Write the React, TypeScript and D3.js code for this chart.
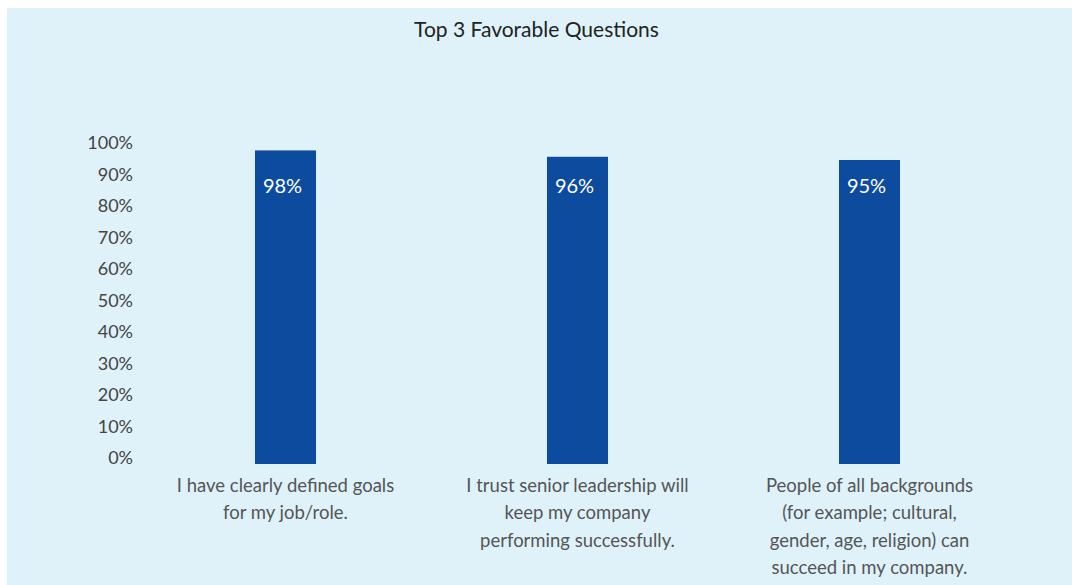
import React from "react";
import * as d3 from "d3";

const categories: string[][] = [
  ["I have clearly defined goals", "for my job/role."],
  ["I trust senior leadership will", "keep my company", "performing successfully."],
  ["People of all backgrounds", "(for example; cultural,", "gender, age, religion) can", "succeed in my company."],
];
const values: number[] = [98, 96, 95];
const valueLabels: string[] = ["98%", "96%", "95%"];
const yTicks: number[] = [0, 10, 20, 30, 40, 50, 60, 70, 80, 90, 100];
const title = "Top 3 Favorable Questions";

const W = 1072;
const H = 585;
const FONT = "Lato, 'Open Sans', sans-serif";

export default function App() {
  const keys = categories.map((_, i) => String(i));
  const x = d3
    .scaleBand<string>()
    .domain(keys)
    .range([139.5, 1015.5])
    .paddingInner(0.791)
    .paddingOuter(0.3955);
  const y = d3.scaleLinear().domain([0, 100]).range([464, 144]);
  const yLab = d3.scaleLinear().domain([0, 100]).range([464, 149]);

  return (
    <svg
      width={W}
      height={H}
      style={{ position: "absolute", left: 0, top: 0, display: "block" }}
      fontFamily={FONT}
    >
      <rect x={7} y={8} width={W - 7} height={H - 8} fill="#dff2fa" />
      <text x={536.5} y={37} textAnchor="middle" fontSize={21} fill="#222">
        {title}
      </text>
      {yTicks.map((t) => (
        <text key={t} x={133} y={yLab(t)} textAnchor="end" fontSize={18} fill="#444">
          {`${t}%`}
        </text>
      ))}
      {values.map((v, i) => {
        const bx = x(keys[i]) as number;
        return (
          <g key={i}>
            <rect x={bx} y={y(v)} width={x.bandwidth()} height={y(0) - y(v)} fill="#0c4b9e" />
            <text
              x={bx + x.bandwidth() / 2 - 3}
              y={y(100) + 49}
              textAnchor="middle"
              fontSize={20}
              fill="#ffffff"
            >
              {valueLabels[i]}
            </text>
            <text textAnchor="middle" fontSize={18.5} fill="#555">
              {categories[i].map((line, j) => (
                <tspan key={j} x={bx + x.bandwidth() / 2} y={492 + j * 27.3}>
                  {line}
                </tspan>
              ))}
            </text>
          </g>
        );
      })}
    </svg>
  );
}
